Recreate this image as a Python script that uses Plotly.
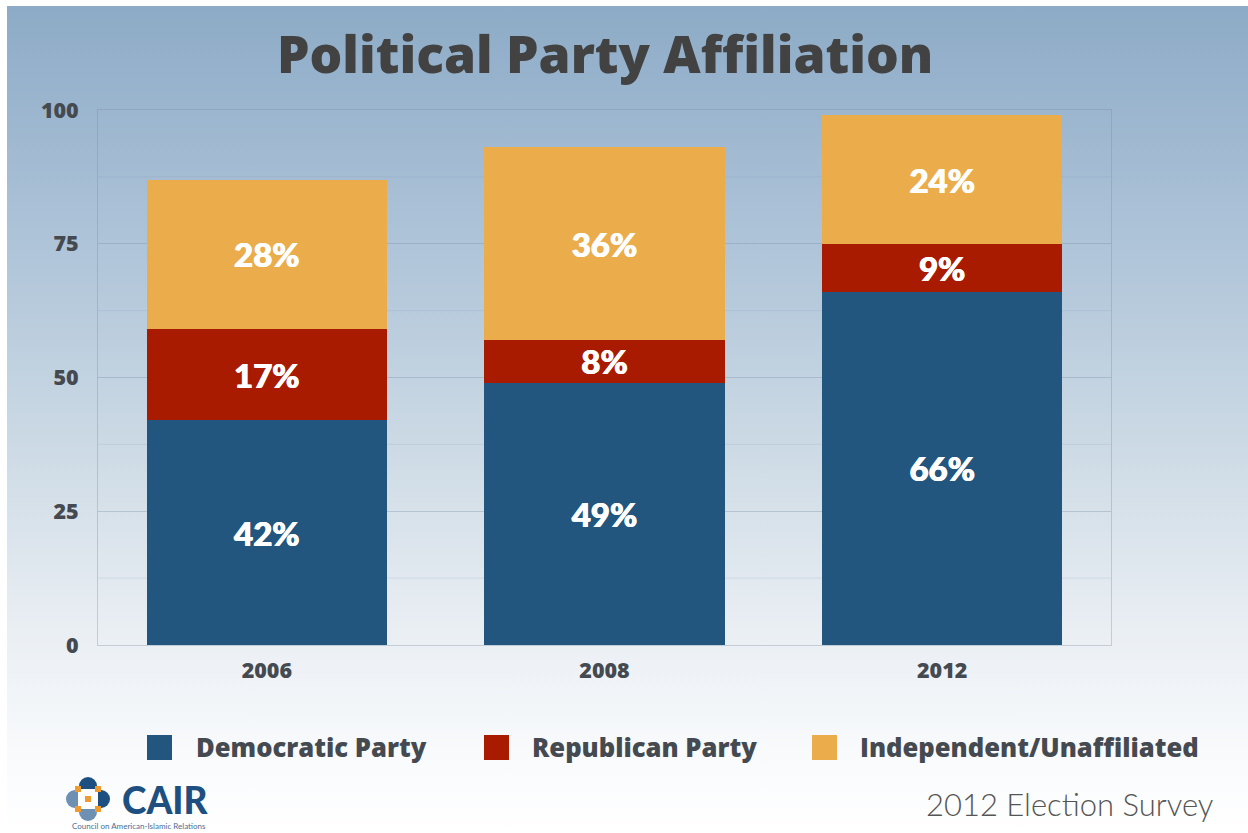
import plotly.graph_objects as go
import urllib.parse

years = ["2006", "2008", "2012"]
democratic = [42, 49, 66]
republican = [17, 8, 9]
independent = [28, 36, 24]
series_names = ["Democratic Party", "Republican Party", "Independent/Unaffiliated"]
series_colors = ["#22567f", "#a91b00", "#ebad4b"]
y_ticks = [0, 25, 50, 75, 100]
minor_y = [12.5, 37.5, 62.5, 87.5]

W, H = 1248, 833
TEXT = "#454a50"
HEAVY = "'Open Sans', 'Noto Sans', sans-serif"
HUMANIST = "Lato, 'Open Sans', sans-serif"

# Slide backdrop: vertical blue-to-white wash behind the chart
backdrop = (
    f'<svg xmlns="http://www.w3.org/2000/svg" width="{W}" height="{H}" viewBox="0 0 {W} {H}">'
    '<defs><linearGradient id="g" x1="0" y1="0" x2="0" y2="1">'
    '<stop offset="0" stop-color="#8dabc6"/><stop offset="0.13" stop-color="#9cb6cf"/>'
    '<stop offset="0.3" stop-color="#b0c5d9"/><stop offset="0.5" stop-color="#c8d7e3"/>'
    '<stop offset="0.75" stop-color="#e9eef3"/><stop offset="0.9" stop-color="#f8fafc"/>'
    '<stop offset="1" stop-color="#ffffff"/></linearGradient></defs>'
    f'<rect x="7" y="6" width="{W-7}" height="{H-6}" fill="url(#g)"/></svg>'
)
backdrop_uri = "data:image/svg+xml;charset=utf-8," + urllib.parse.quote(backdrop)

fig = go.Figure()
for name, values, color in zip(series_names, [democratic, republican, independent], series_colors):
    fig.add_bar(
        x=years, y=values, name=name, marker=dict(color=color, line=dict(width=0)),
        text=[f"{v}%" for v in values], textposition="inside", insidetextanchor="middle",
        textangle=0, constraintext="none",
        textfont=dict(family=HUMANIST, size=33, color="white", weight=900,
                      shadow="0.5px 0 0 white, -0.5px 0 0 white"),
        showlegend=False,
    )

def px(x):
    return x / W

def py(y):
    return 1 - y / H

def label(x, y, text, size, color, anchor="center", weight=800, family=HEAVY):
    return dict(x=px(x), y=py(y), xref="paper", yref="paper", text=text, showarrow=False,
                xanchor=anchor, yanchor="middle",
                font=dict(family=family, size=size, color=color, weight=weight))

annotations = [
    label(605, 53, "Political Party Affiliation", 51.5, "#424242"),
    label(1069, 804, "2012 Election Survey", 31, "#555555", weight=300, family=HUMANIST),
    label(120, 799, "CAIR", 37, "#1d4f80", anchor="left", weight=900, family=HUMANIST),
    label(139, 826, "Council on American-Islamic Relations", 8, "#4a6f96", weight=400, family=HUMANIST),
]
legend_items = [(147, 194), (484, 530), (812, 858)]
for (box_x, label_x), name in zip(legend_items, series_names):
    annotations.append(label(label_x, 747, name, 25.6, TEXT, anchor="left"))

shapes = [
    dict(type="rect", xref="paper", yref="paper", x0=px(bx), x1=px(bx + 25), y0=py(760), y1=py(735),
         fillcolor=c, line=dict(width=0), layer="above")
    for (bx, _), c in zip(legend_items, series_colors)
]
# Faint minor gridlines between the labelled ticks
for v in minor_y:
    shapes.append(dict(type="line", xref="x domain", yref="y", x0=0, x1=1, y0=v, y1=v,
                       line=dict(color="rgba(120,145,170,0.16)", width=1), layer="below"))
# Logo emblem: four rounded lobes around a small orange centre
logo_cx, logo_cy = 88, 799
for dx, dy, c in [(0, -13, "#1d4f80"), (0, 13, "#6d90b3"), (-13, 0, "#6d90b3"), (13, 0, "#1d4f80")]:
    shapes.append(dict(type="circle", xref="paper", yref="paper",
                       x0=px(logo_cx + dx - 9), x1=px(logo_cx + dx + 9),
                       y0=py(logo_cy + dy + 9), y1=py(logo_cy + dy - 9),
                       fillcolor=c, line=dict(width=0), layer="above"))
for dx, dy, c, s in [(0, 0, "#ffffff", 10), (0, 0, "#ef9b30", 3), (-10, -10, "#ef9b30", 3), (10, -10, "#ef9b30", 3),
                     (-10, 10, "#ef9b30", 3), (10, 10, "#ef9b30", 3)]:
    shapes.append(dict(type="rect", xref="paper", yref="paper",
                       x0=px(logo_cx + dx - s), x1=px(logo_cx + dx + s),
                       y0=py(logo_cy + dy + s), y1=py(logo_cy + dy - s),
                       fillcolor=c, line=dict(width=0), layer="above"))

fig.update_layout(
    width=W, height=H, autosize=False, barmode="stack", bargap=0.288,
    margin=dict(l=0, r=0, t=0, b=0),
    paper_bgcolor="white", plot_bgcolor="rgba(0,0,0,0)",
    images=[dict(source=backdrop_uri, xref="paper", yref="paper", x=0, y=1, sizex=1, sizey=1,
                 sizing="stretch", layer="below", xanchor="left", yanchor="top")],
    annotations=annotations, shapes=shapes,
    xaxis=dict(domain=[px(98), px(1111)], type="category", showgrid=False, ticks="",
               showline=True, linecolor="rgba(120,140,160,0.35)", linewidth=1, mirror=True,
               automargin=False,
               tickfont=dict(family=HEAVY, size=21.5, color=TEXT, weight=800), ticklabelstandoff=6),
    yaxis=dict(domain=[py(645), py(110)], range=[0, 100], tickvals=y_ticks, showgrid=True,
               gridcolor="rgba(120,145,170,0.36)", gridwidth=1, zeroline=False, automargin=False,
               showline=True, linecolor="rgba(120,140,160,0.35)", linewidth=1, mirror=True, ticks="",
               tickfont=dict(family=HEAVY, size=21.5, color=TEXT, weight=800), ticklabelstandoff=14),
)
fig.write_html("out.html")
